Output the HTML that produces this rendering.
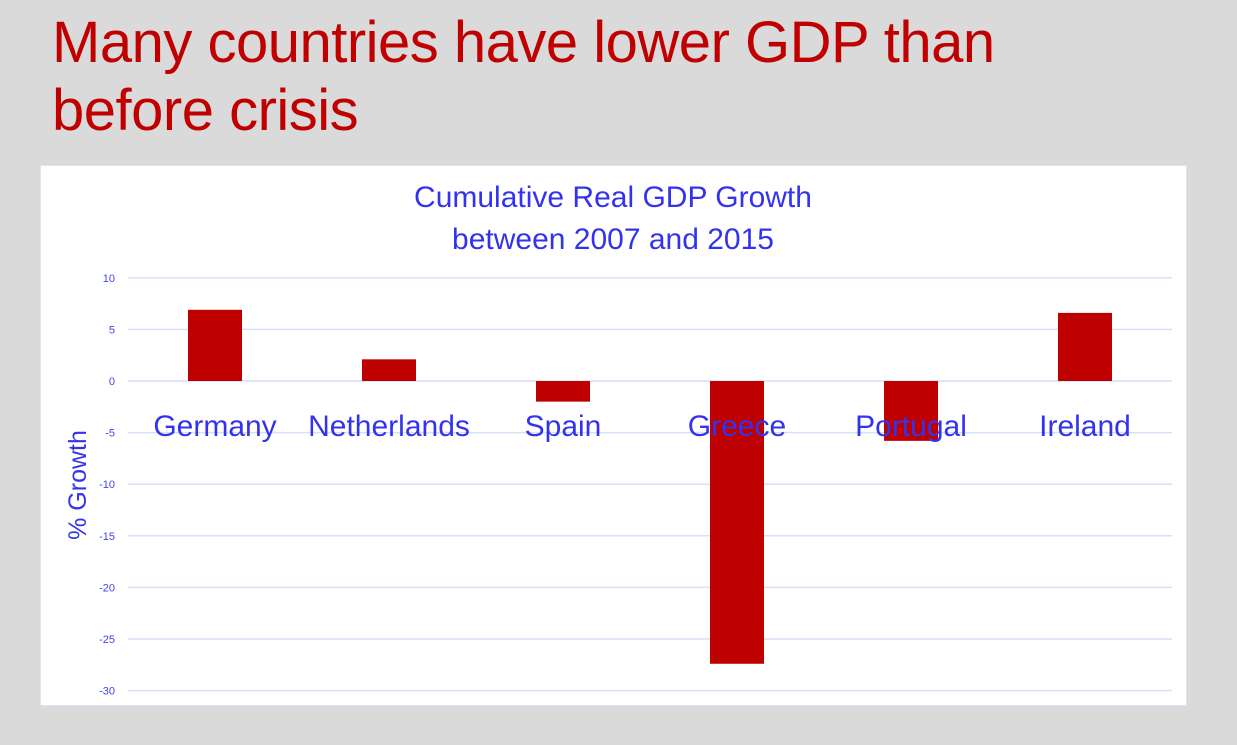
<!DOCTYPE html>
<html><head><meta charset="utf-8"><style>
body{margin:0;width:1237px;height:745px;background:#dadada;overflow:hidden;font-family:"Liberation Sans",sans-serif;position:relative}
#title{position:absolute;left:52px;top:9px;color:#c00000;font-size:58px;line-height:68px;letter-spacing:-0.5px}
#panel{position:absolute;left:40px;top:165px;width:1147px;height:541px;background:#fff;border:1px solid #dbe5f8;box-sizing:border-box}
svg{position:absolute;left:0;top:0}
</style></head><body>
<div id="title">Many countries have lower GDP than<br>before crisis</div>
<div id="panel"></div>
<svg id="chart" width="1237" height="745">
<text x="613" y="207" text-anchor="middle" font-size="30" fill="#3333ee">Cumulative Real GDP Growth</text>
<text x="613" y="249" text-anchor="middle" font-size="30" fill="#3333ee">between 2007 and 2015</text>
<text transform="translate(86,485) rotate(-90)" text-anchor="middle" font-size="25" fill="#3333ee">% Growth</text>
</svg>
<script>
const categories=["Germany","Netherlands","Spain","Greece","Portugal","Ireland"];
const values=[6.9,2.1,-2.0,-27.4,-5.8,6.6];
const ticks=[10,5,0,-5,-10,-15,-20,-25,-30];
const svg=document.getElementById('chart');
const NS="http://www.w3.org/2000/svg";
const x0=128,x1=1172,yZero=381,pxPer=10.32;
const y=v=>yZero-v*pxPer;
const band=(x1-x0)/categories.length;
const xc=i=>x0+band*(i+0.5);
function mk(t,a){const e=document.createElementNS(NS,t);for(const k in a)e.setAttribute(k,a[k]);svg.appendChild(e);return e;}
ticks.forEach(t=>{
 const l=mk('line',{x1:x0,x2:x1,y1:y(t),y2:y(t),stroke:'#d6e1f6','stroke-width':1.5});
 
 
 const tx=mk('text',{x:115,y:y(t)+4,'text-anchor':'end','font-size':11,fill:'#4444ee'});
 tx.textContent=t;
 
 
});
values.forEach((v,i)=>{
 const r=mk('rect',{x:xc(i)-27,width:54,y:Math.min(y(v),y(0)),height:Math.abs(y(v)-y(0)),fill:'#bf0000'});
 
 
});
categories.forEach((c,i)=>{
 const t=mk('text',{x:xc(i),y:436,'text-anchor':'middle','font-size':30,fill:'#3333ee'});
 t.textContent=c;
 
 
});
</script>
</body></html>
